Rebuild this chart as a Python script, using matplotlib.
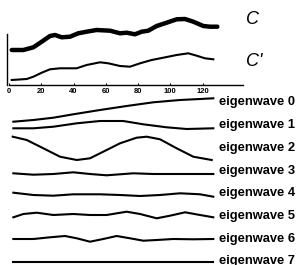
import numpy as np
import matplotlib
matplotlib.use('Agg')
import matplotlib.pyplot as plt

# ---------------- data ----------------
# signal C (thick) and C' (thin), arbitrary units, x in samples
c_x = [1.7, 8.9, 15.1, 20.3, 25.4, 28.5, 32.7, 37.8, 42.9, 48.1, 54.3, 62.6, 68.8,
       72.9, 78.1, 82.2, 86.3, 91.5, 97.7, 103.9, 109.1, 114.2, 120.4, 124.6, 129.1]
c_y = [35, 35, 37.7, 43.3, 49, 50, 47.7, 48.3, 51.7, 53.3, 55, 54.3, 51.7,
       52.3, 50.7, 53.3, 54.3, 59, 62.3, 65.7, 66, 63.3, 59, 58.3, 58.3]

cp_x = [1.7, 11.0, 15.1, 20.3, 25.4, 31.6, 41.9, 48.1, 56.4, 61.5, 68.8, 75.0,
        81.2, 88.4, 95.6, 103.9, 111.1, 116.3, 121.4, 126.6]
cp_y = [5, 6, 8.3, 12.3, 15.7, 16.7, 16.7, 20, 22.7, 21.7, 19, 18.3,
        21.7, 25, 27.3, 30, 31.7, 29.3, 26.7, 25.7]

# eigenwaves: x in samples, value = deviation from the row baseline (up = positive)
ew_x = {
    0: [2.7, 15.1, 27.5, 39.8, 56.4, 72.9, 89.4, 106.0, 118.4, 126.6],
    1: [2.7, 15.1, 27.5, 42.0, 56.4, 70.8, 83.2, 97.7, 110.1, 126.6],
    2: [2.3, 11.0, 21.3, 31.6, 42.0, 50.2, 58.4, 68.8, 79.1, 85.3, 93.6, 103.9, 114.2, 125.6],
    3: [2.7, 15.1, 27.5, 39.8, 50.2, 60.5, 77.0, 89.4, 103.9, 118.4, 126.6],
    4: [2.7, 15.1, 27.5, 39.8, 56.4, 68.8, 81.2, 93.6, 106.0, 118.4, 126.6],
    5: [2.7, 8.9, 17.2, 27.5, 39.8, 50.2, 60.5, 72.9, 81.2, 91.5, 99.8, 109.1, 118.4, 126.6],
    6: [2.7, 15.1, 25.4, 34.7, 42.0, 50.2, 58.4, 66.7, 75.0, 83.2, 91.5, 101.8, 114.2, 126.6],
    7: [2.7, 126.6],
}
ew_v = {
    0: [-18.7, -17, -14.7, -11.3, -7, -3, 0.7, 3, 4, 4.7],
    1: [-2.6, -2.6, -1, 2.4, 4.7, 4.7, 1.4, -1.6, -3.3, -2.6],
    2: [11.7, 8.4, 0.1, -8.3, -11.6, -9.9, -3.3, 5.1, 10.7, 11.7, 9.1, 0.1, -8.3, -11.6],
    3: [-2.2, -3.6, -2.9, -1.2, -2.9, -4.2, -2.2, -2.9, -2.9, -2.9, -2.9],
    4: [1.1, -1.2, -1.9, -0.5, -0.5, -1.2, -2.2, -1.2, 0.5, -0.5, -2.9],
    5: [-0.8, 2.5, 3.8, 1.5, 2.5, 1.5, 1.5, 4.8, 2.5, -1.8, 0.8, 4.2, 1.5, -0.8],
    6: [0.2, 0.2, 1.9, 3.2, 0.9, -2.5, 0.2, 3.2, 0.9, -1.5, -0.8, 0.2, -0.1, 0.2],
    7: [-0.2, -0.2],
}
ew_labels = ['eigenwave %d' % i for i in range(8)]
xticks = [0, 20, 40, 60, 80, 100, 120]

# ---------------- plot ----------------
W, H = 302, 265
fig = plt.figure(figsize=(W / 100, H / 100), dpi=100)
fig.patch.set_facecolor('white')

x0_px, x1_px = 9, 243
xlim = (0, 145)

# top axes with C and C'
ax = fig.add_axes([x0_px / W, 1 - 85 / H, (x1_px - x0_px) / W, 85 / H])
ax.plot(c_x, c_y, color='black', lw=3.2, solid_joinstyle='round', solid_capstyle='round')
ax.plot(cp_x, cp_y, color='black', lw=1.5, solid_joinstyle='round')
ax.set_xlim(*xlim)
ax.set_ylim(0, 85)
ax.spines['top'].set_visible(False)
ax.spines['right'].set_visible(False)
ax.spines['left'].set_bounds(0, 51)
ax.spines['left'].set_position(('data', -1))
ax.spines['left'].set_linewidth(1.0)
ax.spines['bottom'].set_linewidth(1.0)
ax.set_yticks([])
ax.set_xticks(xticks)
ax.set_xticklabels([str(t) for t in xticks], fontsize=5.5, fontweight='bold',
                   family='Liberation Sans')
ax.tick_params(axis='x', direction='in', length=1.5, width=0.8, pad=2)
ax.patch.set_alpha(0)

fig.text(246 / W, 1 - 20 / H, 'C', fontsize=13, style='italic',
         family='Liberation Sans', va='center', ha='left')
fig.text(246 / W, 1 - 62 / H, "C'", fontsize=13, style='italic',
         family='Liberation Sans', va='center', ha='left')

# bottom axes with the eigenwaves, y in pixel rows
bx = fig.add_axes([x0_px / W, 0, (x1_px - x0_px) / W, 1])
bx.set_xlim(*xlim)
bx.set_ylim(H, 0)
bx.axis('off')
row0, row_step = 103, 22.7
for i in range(8):
    base = row0 + row_step * i
    yy = base - np.array(ew_v[i])
    bx.plot(ew_x[i], yy, color='black', lw=1.5, solid_joinstyle='round')
    fig.text(219 / W, 1 - (base - 0.5) / H, ew_labels[i], fontsize=9.3, fontweight='bold',
             family='Liberation Sans', va='center', ha='left')

fig.savefig('out.png', dpi=100)
